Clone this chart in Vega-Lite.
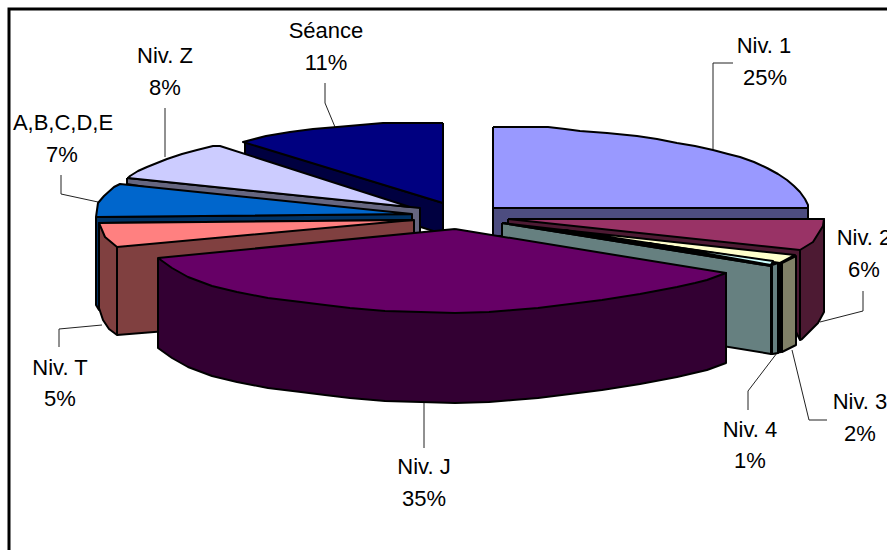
{"$schema":"https://vega.github.io/schema/vega-lite/v6.json","width":887,"height":550,"padding":0,"autosize":"none","background":"white","config":{"view":{"stroke":null}},
"datasets":{
"frame":[{"i":0,"x":9,"y":550},{"i":1,"x":9,"y":9},{"i":2,"x":887,"y":9}],
"shapes":[
{"s":"Niv. 1 side","i":0,"x":493,"y":208},{"s":"Niv. 1 side","i":1,"x":808,"y":208},{"s":"Niv. 1 side","i":2,"x":808,"y":236},{"s":"Niv. 1 side","i":3,"x":493,"y":236},{"s":"Niv. 1 side","i":4,"x":493,"y":208},
{"s":"Niv. 1 top","i":0,"x":493,"y":127},{"s":"Niv. 1 top","i":1,"x":548,"y":127},{"s":"Niv. 1 top","i":2,"x":565,"y":129},{"s":"Niv. 1 top","i":3,"x":580,"y":131},{"s":"Niv. 1 top","i":4,"x":607,"y":133},{"s":"Niv. 1 top","i":5,"x":637,"y":136},{"s":"Niv. 1 top","i":6,"x":657,"y":139},{"s":"Niv. 1 top","i":7,"x":677,"y":143},{"s":"Niv. 1 top","i":8,"x":695,"y":146},{"s":"Niv. 1 top","i":9,"x":713,"y":150},{"s":"Niv. 1 top","i":10,"x":728,"y":154},{"s":"Niv. 1 top","i":11,"x":740,"y":157},{"s":"Niv. 1 top","i":12,"x":754,"y":162},{"s":"Niv. 1 top","i":13,"x":767,"y":168},{"s":"Niv. 1 top","i":14,"x":778,"y":174},{"s":"Niv. 1 top","i":15,"x":787,"y":180},{"s":"Niv. 1 top","i":16,"x":794,"y":186},{"s":"Niv. 1 top","i":17,"x":800,"y":192},{"s":"Niv. 1 top","i":18,"x":805,"y":199},{"s":"Niv. 1 top","i":19,"x":808,"y":205},{"s":"Niv. 1 top","i":20,"x":808,"y":208},{"s":"Niv. 1 top","i":21,"x":493,"y":208},{"s":"Niv. 1 top","i":22,"x":493,"y":127},
{"s":"Séance side","i":0,"x":245,"y":142},{"s":"Séance side","i":1,"x":443,"y":203},{"s":"Séance side","i":2,"x":443,"y":234},{"s":"Séance side","i":3,"x":245,"y":172},{"s":"Séance side","i":4,"x":245,"y":142},
{"s":"Séance top","i":0,"x":443,"y":123},{"s":"Séance top","i":1,"x":410,"y":123},{"s":"Séance top","i":2,"x":383,"y":123},{"s":"Séance top","i":3,"x":360,"y":125},{"s":"Séance top","i":4,"x":337,"y":127},{"s":"Séance top","i":5,"x":313,"y":129},{"s":"Séance top","i":6,"x":290,"y":132},{"s":"Séance top","i":7,"x":266,"y":136},{"s":"Séance top","i":8,"x":243,"y":142},{"s":"Séance top","i":9,"x":443,"y":203},{"s":"Séance top","i":10,"x":443,"y":123},
{"s":"Niv. Z side","i":0,"x":127,"y":178},{"s":"Niv. Z side","i":1,"x":420,"y":208},{"s":"Niv. Z side","i":2,"x":420,"y":234},{"s":"Niv. Z side","i":3,"x":127,"y":184},{"s":"Niv. Z side","i":4,"x":127,"y":178},
{"s":"Niv. Z top","i":0,"x":410,"y":207},{"s":"Niv. Z top","i":1,"x":220,"y":146},{"s":"Niv. Z top","i":2,"x":213,"y":146},{"s":"Niv. Z top","i":3,"x":205,"y":148},{"s":"Niv. Z top","i":4,"x":197,"y":150},{"s":"Niv. Z top","i":5,"x":182,"y":154},{"s":"Niv. Z top","i":6,"x":167,"y":159},{"s":"Niv. Z top","i":7,"x":157,"y":163},{"s":"Niv. Z top","i":8,"x":147,"y":167},{"s":"Niv. Z top","i":9,"x":138,"y":171},{"s":"Niv. Z top","i":10,"x":130,"y":176},{"s":"Niv. Z top","i":11,"x":128,"y":178},{"s":"Niv. Z top","i":12,"x":410,"y":207},
{"s":"A,B,C,D,E side","i":0,"x":96,"y":217},{"s":"A,B,C,D,E side","i":1,"x":412,"y":214},{"s":"A,B,C,D,E side","i":2,"x":412,"y":221},{"s":"A,B,C,D,E side","i":3,"x":99,"y":223},{"s":"A,B,C,D,E side","i":4,"x":99,"y":310},{"s":"A,B,C,D,E side","i":5,"x":96,"y":305},{"s":"A,B,C,D,E side","i":6,"x":96,"y":217},
{"s":"A,B,C,D,E top","i":0,"x":412,"y":214},{"s":"A,B,C,D,E top","i":1,"x":120,"y":184},{"s":"A,B,C,D,E top","i":2,"x":114,"y":187},{"s":"A,B,C,D,E top","i":3,"x":104,"y":196},{"s":"A,B,C,D,E top","i":4,"x":98,"y":203},{"s":"A,B,C,D,E top","i":5,"x":97,"y":210},{"s":"A,B,C,D,E top","i":6,"x":96,"y":217},{"s":"A,B,C,D,E top","i":7,"x":412,"y":214},
{"s":"Niv. T side","i":0,"x":99,"y":223},{"s":"Niv. T side","i":1,"x":414,"y":220},{"s":"Niv. T side","i":2,"x":414,"y":311},{"s":"Niv. T side","i":3,"x":117,"y":335},{"s":"Niv. T side","i":4,"x":109,"y":329},{"s":"Niv. T side","i":5,"x":103,"y":320},{"s":"Niv. T side","i":6,"x":99,"y":308},{"s":"Niv. T side","i":7,"x":99,"y":223},
{"s":"Niv. T edge","i":0,"x":117,"y":247},{"s":"Niv. T edge","i":1,"x":117,"y":335},
{"s":"Niv. T top","i":0,"x":413,"y":220},{"s":"Niv. T top","i":1,"x":99,"y":223},{"s":"Niv. T top","i":2,"x":105,"y":237},{"s":"Niv. T top","i":3,"x":117,"y":247},{"s":"Niv. T top","i":4,"x":413,"y":220},
{"s":"Niv. 2 side","i":0,"x":508,"y":219},{"s":"Niv. 2 side","i":1,"x":824,"y":219},{"s":"Niv. 2 side","i":2,"x":824,"y":312},{"s":"Niv. 2 side","i":3,"x":818,"y":323},{"s":"Niv. 2 side","i":4,"x":802,"y":339},{"s":"Niv. 2 side","i":5,"x":800,"y":340},{"s":"Niv. 2 side","i":6,"x":790,"y":320},{"s":"Niv. 2 side","i":7,"x":508,"y":224},{"s":"Niv. 2 side","i":8,"x":508,"y":219},
{"s":"Niv. 2 edge","i":0,"x":800,"y":250},{"s":"Niv. 2 edge","i":1,"x":800,"y":340},
{"s":"Niv. 2 top","i":0,"x":508,"y":219},{"s":"Niv. 2 top","i":1,"x":824,"y":219},{"s":"Niv. 2 top","i":2,"x":823,"y":226},{"s":"Niv. 2 top","i":3,"x":813,"y":242},{"s":"Niv. 2 top","i":4,"x":800,"y":250},{"s":"Niv. 2 top","i":5,"x":508,"y":219},
{"s":"Niv. 4 inner","i":0,"x":502,"y":223},{"s":"Niv. 4 inner","i":1,"x":771,"y":266},{"s":"Niv. 4 inner","i":2,"x":771,"y":354},{"s":"Niv. 4 inner","i":3,"x":502,"y":310},{"s":"Niv. 4 inner","i":4,"x":502,"y":223},
{"s":"Niv. 3 gap","i":0,"x":502,"y":223},{"s":"Niv. 3 gap","i":1,"x":563,"y":230},{"s":"Niv. 3 gap","i":2,"x":781,"y":262},{"s":"Niv. 3 gap","i":3,"x":781,"y":352},{"s":"Niv. 3 gap","i":4,"x":771,"y":354},{"s":"Niv. 3 gap","i":5,"x":771,"y":266},{"s":"Niv. 3 gap","i":6,"x":502,"y":223},
{"s":"Niv. 3 top","i":0,"x":563,"y":230},{"s":"Niv. 3 top","i":1,"x":795,"y":255},{"s":"Niv. 3 top","i":2,"x":780,"y":263},{"s":"Niv. 3 top","i":3,"x":563,"y":230},
{"s":"Niv. 3 outer","i":0,"x":782,"y":263},{"s":"Niv. 3 outer","i":1,"x":796,"y":256},{"s":"Niv. 3 outer","i":2,"x":796,"y":345},{"s":"Niv. 3 outer","i":3,"x":782,"y":352},{"s":"Niv. 3 outer","i":4,"x":782,"y":263},
{"s":"Niv. 4 top","i":0,"x":647,"y":243},{"s":"Niv. 4 top","i":1,"x":773,"y":261},{"s":"Niv. 4 top","i":2,"x":771,"y":265},{"s":"Niv. 4 top","i":3,"x":647,"y":243},
{"s":"Niv. 4 outer","i":0,"x":772,"y":265},{"s":"Niv. 4 outer","i":1,"x":778,"y":263},{"s":"Niv. 4 outer","i":2,"x":778,"y":353},{"s":"Niv. 4 outer","i":3,"x":772,"y":354},{"s":"Niv. 4 outer","i":4,"x":772,"y":265},
{"s":"Niv. J side","i":0,"x":158,"y":258},{"s":"Niv. J side","i":1,"x":726,"y":273},{"s":"Niv. J side","i":2,"x":726,"y":363},{"s":"Niv. J side","i":3,"x":707,"y":370},{"s":"Niv. J side","i":4,"x":677,"y":377},{"s":"Niv. J side","i":5,"x":640,"y":384},{"s":"Niv. J side","i":6,"x":602,"y":390},{"s":"Niv. J side","i":7,"x":570,"y":394},{"s":"Niv. J side","i":8,"x":538,"y":398},{"s":"Niv. J side","i":9,"x":513,"y":400},{"s":"Niv. J side","i":10,"x":489,"y":402},{"s":"Niv. J side","i":11,"x":455,"y":403},{"s":"Niv. J side","i":12,"x":421,"y":402},{"s":"Niv. J side","i":13,"x":385,"y":401},{"s":"Niv. J side","i":14,"x":350,"y":398},{"s":"Niv. J side","i":15,"x":325,"y":395},{"s":"Niv. J side","i":16,"x":301,"y":392},{"s":"Niv. J side","i":17,"x":268,"y":388},{"s":"Niv. J side","i":18,"x":237,"y":382},{"s":"Niv. J side","i":19,"x":212,"y":376},{"s":"Niv. J side","i":20,"x":188,"y":367},{"s":"Niv. J side","i":21,"x":172,"y":358},{"s":"Niv. J side","i":22,"x":158,"y":348},{"s":"Niv. J side","i":23,"x":158,"y":258},
{"s":"Niv. J top","i":0,"x":455,"y":229},{"s":"Niv. J top","i":1,"x":726,"y":273},{"s":"Niv. J top","i":2,"x":707,"y":280},{"s":"Niv. J top","i":3,"x":695,"y":283},{"s":"Niv. J top","i":4,"x":677,"y":287},{"s":"Niv. J top","i":5,"x":640,"y":294},{"s":"Niv. J top","i":6,"x":602,"y":300},{"s":"Niv. J top","i":7,"x":570,"y":304},{"s":"Niv. J top","i":8,"x":538,"y":308},{"s":"Niv. J top","i":9,"x":513,"y":310},{"s":"Niv. J top","i":10,"x":489,"y":312},{"s":"Niv. J top","i":11,"x":455,"y":313},{"s":"Niv. J top","i":12,"x":421,"y":312},{"s":"Niv. J top","i":13,"x":385,"y":311},{"s":"Niv. J top","i":14,"x":350,"y":308},{"s":"Niv. J top","i":15,"x":325,"y":305},{"s":"Niv. J top","i":16,"x":301,"y":302},{"s":"Niv. J top","i":17,"x":268,"y":298},{"s":"Niv. J top","i":18,"x":237,"y":292},{"s":"Niv. J top","i":19,"x":212,"y":286},{"s":"Niv. J top","i":20,"x":188,"y":277},{"s":"Niv. J top","i":21,"x":172,"y":268},{"s":"Niv. J top","i":22,"x":158,"y":258},{"s":"Niv. J top","i":23,"x":455,"y":229}
],
"leaders":[
{"l":"Niv. 1","i":0,"x":713,"y":149},{"l":"Niv. 1","i":1,"x":713,"y":63},{"l":"Niv. 1","i":2,"x":733,"y":63},
{"l":"Niv. 2","i":0,"x":820,"y":322},{"l":"Niv. 2","i":1,"x":863,"y":311},{"l":"Niv. 2","i":2,"x":863,"y":291},
{"l":"Niv. 3","i":0,"x":792,"y":350},{"l":"Niv. 3","i":1,"x":809,"y":420},{"l":"Niv. 3","i":2,"x":827,"y":420},
{"l":"Niv. 4","i":0,"x":777,"y":353},{"l":"Niv. 4","i":1,"x":748,"y":391},{"l":"Niv. 4","i":2,"x":748,"y":410},
{"l":"Niv. J","i":0,"x":424,"y":402},{"l":"Niv. J","i":1,"x":424,"y":448},
{"l":"Niv. T","i":0,"x":102,"y":325},{"l":"Niv. T","i":1,"x":59,"y":329},{"l":"Niv. T","i":2,"x":59,"y":347},
{"l":"A,B,C,D,E","i":0,"x":98,"y":202},{"l":"A,B,C,D,E","i":1,"x":61,"y":194},{"l":"A,B,C,D,E","i":2,"x":61,"y":175},
{"l":"Niv. Z","i":0,"x":165,"y":157},{"l":"Niv. Z","i":1,"x":165,"y":108},
{"l":"Séance","i":0,"x":335,"y":127},{"l":"Séance","i":1,"x":325,"y":103},{"l":"Séance","i":2,"x":325,"y":83}
],
"labels":[
{"t":"Niv. 1","x":764,"y":53},{"t":"25%","x":765,"y":85},
{"t":"Niv. 2","x":864,"y":245},{"t":"6%","x":864,"y":277},
{"t":"Niv. 3","x":860,"y":409},{"t":"2%","x":860,"y":441},
{"t":"Niv. 4","x":750,"y":437},{"t":"1%","x":750,"y":468},
{"t":"Niv. J","x":424,"y":474},{"t":"35%","x":424,"y":506},
{"t":"Niv. T","x":60,"y":375},{"t":"5%","x":60,"y":406},
{"t":"A,B,C,D,E","x":63,"y":130},{"t":"7%","x":62,"y":162},
{"t":"Niv. Z","x":165,"y":63},{"t":"8%","x":165,"y":95},
{"t":"Séance","x":326,"y":38},{"t":"11%","x":326,"y":70}
]},
"encoding":{
"x":{"field":"x","type":"quantitative","scale":{"domain":[0,887],"nice":false,"zero":false},"axis":null},
"y":{"field":"y","type":"quantitative","scale":{"domain":[550,0],"nice":false,"zero":false},"axis":null}},
"layer":[
{"data":{"name":"frame"},"mark":{"type":"line","stroke":"black","strokeWidth":3,"clip":true},"encoding":{"order":{"field":"i"}}},
{"data":{"name":"leaders"},"mark":{"type":"line","stroke":"#222222","strokeWidth":1},"encoding":{"detail":{"field":"l"},"order":{"field":"i"}}},
{"data":{"name":"shapes"},"mark":{"type":"line","stroke":"black","strokeWidth":2,"strokeJoin":"round"},"encoding":{"order":{"field":"i"},"fill":{"field":"s","type":"nominal","legend":null,"scale":{"domain":["Niv. 1 side","Niv. 1 top","Séance side","Séance top","Niv. Z side","Niv. Z top","A,B,C,D,E side","A,B,C,D,E top","Niv. T side","Niv. T edge","Niv. T top","Niv. 2 side","Niv. 2 edge","Niv. 2 top","Niv. 4 inner","Niv. 3 gap","Niv. 3 top","Niv. 3 outer","Niv. 4 top","Niv. 4 outer","Niv. J side","Niv. J top"],"range":["#4D4D80","#9999FF","#000040","#000080","#666680","#CCCCFF","#003366","#0066CC","#804040","#804040","#FF8080","#4D1A33","#4D1A33","#993366","#668080","#000000","#FFFFCC","#808066","#CCFFFF","#668080","#330033","#660066"]}}}},
{"data":{"name":"labels"},"mark":{"type":"text","font":"Liberation Sans","fontSize":22,"align":"center","baseline":"alphabetic","color":"black"},"encoding":{"text":{"field":"t"}}}
]}
